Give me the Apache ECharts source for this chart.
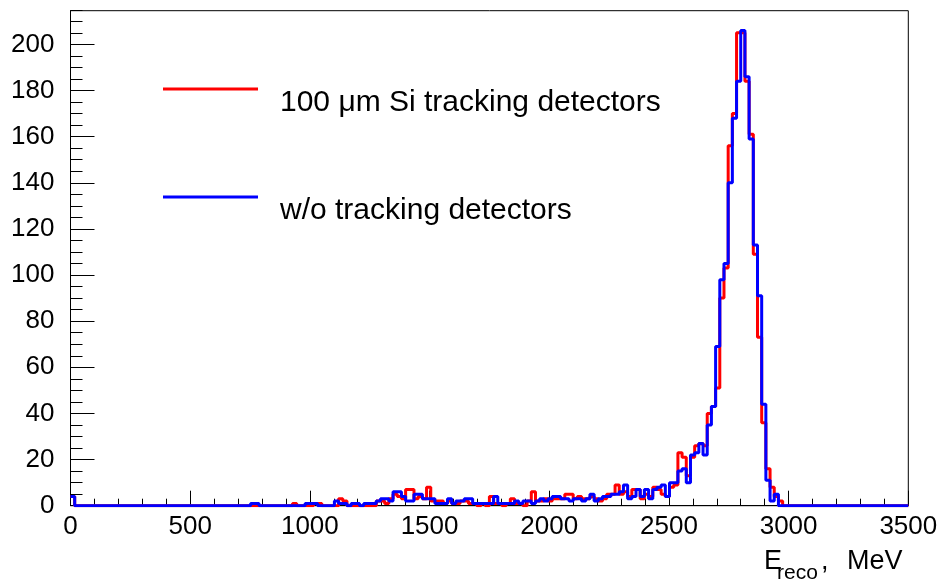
<!DOCTYPE html>
<html>
<head>
<meta charset="utf-8">
<script src="https://cdn.jsdelivr.net/npm/echarts@6/dist/echarts.min.js"></script>
<style>
  html, body { margin: 0; padding: 0; background: #fff; }
  #chart { width: 944px; height: 584px; }
</style>
</head>
<body>
<div id="chart"></div>
<script>
// histogram: 200 bins of 17.5 MeV from 0 to 3500
const binWidth = 17.5;
const seriesNames = ["100 \u03bcm Si tracking detectors", "w/o tracking detectors"];

// counts per bin (20 bins per row)
const redCounts = [
  4, 0, 0, 0, 0, 0, 0, 0, 0, 0, 0, 0, 0, 0, 0, 0, 0, 0, 0, 0,
  0, 0, 0, 0, 0, 0, 0, 0, 0, 0, 0, 0, 0, 0, 0, 0, 0, 0, 0, 0,
  0, 0, 0, 0, 0, 0, 0, 0, 0, 0, 0, 0, 0, 1, 0, 0, 0, 0, 1, 1,
  0, 0, 0, 0, 3, 2, 0, 0, 0, 0, 0, 0, 0, 2, 2, 1, 3, 5, 4, 3,
  7, 7, 3, 4, 3, 8, 2, 2, 2, 1, 2, 1, 1, 2, 2, 1, 1, 0, 1, 0,
  4, 1, 1, 0, 1, 3, 1, 1, 0, 2, 6, 2, 2, 3, 2, 3, 3, 3, 5, 5,
  3, 4, 3, 3, 4, 3, 2, 3, 5, 5, 9, 5, 6, 4, 7, 7, 3, 5, 4, 8,
  7, 5, 4, 8, 9, 23, 21, 13, 21, 26, 27, 26, 40, 43, 51, 90, 103, 156, 170, 205,
  205, 184, 161, 109, 73, 36, 16, 8, 4, 2, 0, 0, 0, 0, 0, 0, 0, 0, 0, 0,
  0, 0, 0, 0, 0, 0, 0, 0, 0, 0, 0, 0, 0, 0, 0, 0, 0, 0, 0, 0
];
const blueCounts = [
  4, 0, 0, 0, 0, 0, 0, 0, 0, 0, 0, 0, 0, 0, 0, 0, 0, 0, 0, 0,
  0, 0, 0, 0, 0, 0, 0, 0, 0, 0, 0, 0, 0, 0, 0, 0, 0, 0, 0, 0,
  0, 0, 0, 1, 1, 0, 0, 0, 0, 0, 0, 0, 0, 0, 0, 0, 1, 1, 1, 0,
  0, 0, 0, 2, 1, 1, 0, 1, 1, 0, 1, 1, 1, 2, 3, 3, 2, 6, 6, 4,
  2, 2, 5, 5, 3, 3, 3, 1, 1, 1, 3, 1, 2, 2, 3, 3, 1, 1, 1, 1,
  1, 4, 1, 1, 1, 1, 2, 1, 2, 2, 1, 2, 3, 2, 3, 4, 4, 3, 3, 2,
  3, 3, 2, 3, 5, 2, 3, 4, 4, 5, 5, 6, 9, 3, 4, 7, 4, 7, 3, 7,
  8, 9, 4, 10, 10, 15, 16, 10, 22, 23, 27, 22, 35, 43, 69, 98, 105, 140, 168, 184,
  206, 186, 159, 113, 91, 44, 11, 2, 5, 0, 0, 0, 0, 0, 0, 0, 0, 0, 0, 0,
  0, 0, 0, 0, 0, 0, 0, 0, 0, 0, 0, 0, 0, 0, 0, 0, 0, 0, 0, 0
];

const xMin = 0, xMax = 3500, xStep = 500;
const yMin = 0, yMax = 214.6, yStep = 20, yMinorStep = 5;

const font = "Liberation Sans, Arial, Helvetica, sans-serif";

// left bin edge + count, closing point at the right edge
function histPoints(counts) {
  const pts = counts.map((c, i) => [i * binWidth, c]);
  pts.push([counts.length * binWidth, counts[counts.length - 1]]);
  return pts;
}

// one legend per entry, text sits a bit below its line like in ROOT
function legendFor(name, top) {
  return {
    data: [name],
    left: 163,
    top: top,
    padding: 0,
    icon: "rect",
    itemWidth: 95,
    itemHeight: 3,
    selectedMode: false,
    formatter: n => "\n" + n,
    textStyle: {
      fontFamily: font,
      fontSize: 30,
      lineHeight: 28,
      color: "#000",
      padding: [0, 0, 0, 17]
    }
  };
}

const chart = echarts.init(document.getElementById("chart"));
chart.setOption({
  animation: false,
  backgroundColor: "#fff",
  grid: {
    left: 70.5,
    right: 35.7,
    top: 10.7,
    bottom: 78.3,
    show: true,
    borderColor: "#000",
    borderWidth: 1,
    outerBoundsMode: "none"
  },
  legend: [legendFor(seriesNames[0], 60), legendFor(seriesNames[1], 168)],
  xAxis: {
    type: "value",
    min: xMin,
    max: xMax,
    interval: xStep,
    axisLine: { lineStyle: { color: "#000", width: 1 } },
    axisTick: { inside: true, length: 15, lineStyle: { color: "#000" } },
    minorTick: { show: true, splitNumber: 5, length: 7, lineStyle: { color: "#000" } },
    splitLine: { show: false },
    axisLabel: {
      fontFamily: font, fontSize: 26, color: "#000", margin: 8,
      formatter: v => String(v)
    }
  },
  yAxis: [
    {
      type: "value",
      position: "left",
      min: yMin,
      max: yMax,
      interval: yStep,
      axisLine: { show: true, lineStyle: { color: "#000", width: 1 } },
      axisTick: { show: true, inside: true, length: 24, lineStyle: { color: "#000" } },
      splitLine: { show: false },
      axisLabel: { fontFamily: font, fontSize: 26, color: "#000", margin: 16, showMaxLabel: false }
    },
    {
      // minor ticks every 5
      type: "value",
      position: "left",
      min: yMin,
      max: yMax,
      interval: yMinorStep,
      axisLine: { show: false },
      axisTick: { show: true, inside: true, length: 12, lineStyle: { color: "#000" } },
      splitLine: { show: false },
      axisLabel: { show: false }
    }
  ],
  series: [
    {
      name: seriesNames[0],
      type: "line",
      step: "end",
      showSymbol: false,
      yAxisIndex: 0,
      itemStyle: { color: "#ff0000" },
      lineStyle: { color: "#ff0000", width: 3 },
      data: histPoints(redCounts)
    },
    {
      name: seriesNames[1],
      type: "line",
      step: "end",
      showSymbol: false,
      yAxisIndex: 0,
      itemStyle: { color: "#0000ff" },
      lineStyle: { color: "#0000ff", width: 3 },
      data: histPoints(blueCounts)
    }
  ],
  graphic: [
    { type: "text", left: 764, top: 548, style: { text: "E", font: "27px " + font, fill: "#000" } },
    { type: "text", left: 777, top: 563, style: { text: "reco", font: "21px " + font, fill: "#000" } },
    { type: "text", left: 821, top: 548, style: { text: ",", font: "27px " + font, fill: "#000" } },
    { type: "text", left: 847, top: 548, style: { text: "MeV", font: "27px " + font, fill: "#000" } }
  ]
});
</script>
</body>
</html>
